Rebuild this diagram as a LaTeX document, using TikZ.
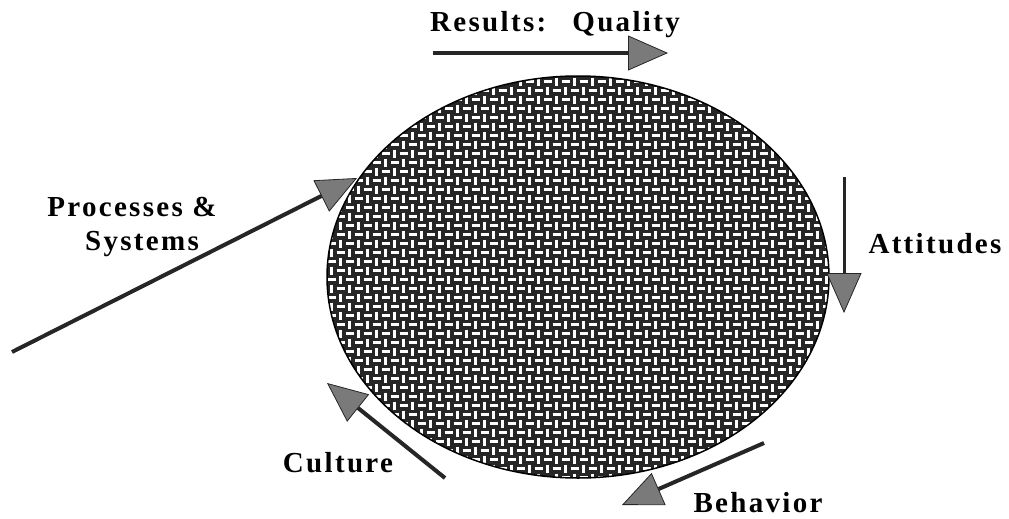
\documentclass[tikz,border=0pt]{standalone}
\usepackage{fontspec}
\setmainfont{Liberation Serif}
\newfontfamily\lblfont{Liberation Serif}[LetterSpace=8]
\usetikzlibrary{arrows.meta, shapes.geometric}

\begin{document}
\begin{tikzpicture}[x=1pt, y=-1pt,
    lbl/.style={font=\lblfont\bfseries\fontsize{29}{35}\selectfont,
                anchor=base, inner sep=0pt},
    push/.style={line width=4pt, draw=black!85,
                 -{Triangle[length=40pt, width=35pt, line width=0.8pt, fill=black!52]}},
    weave/.style={white, line width=2.1pt},
    core/.style={ellipse, draw=black, line width=1.5pt, fill=black!85,
                 minimum width=502pt, minimum height=402pt, inner sep=0pt},
]
\useasboundingbox (0,0) rectangle (1009,519);
\node[core, path picture={
    \foreach \i in {0,18,...,504} {
      \foreach \j in {0,18,...,396} {
        \draw[weave] (-251+\i+0.5,-200+\j+4.5) -- ++(8,0)
                     (-251+\i+13.5,-200+\j+0.5) -- ++(0,8)
                     (-251+\i+4.5,-200+\j+9.5) -- ++(0,8)
                     (-251+\i+9.5,-200+\j+13.5) -- ++(8,0);
      }
    }
  }] (hub) at (578,277) {};
\coordinate (rq-a) at (433,53);
\coordinate (rq-b) at (668,53);
\coordinate (ps-a) at (12,352);
\coordinate (ps-b) at (357,178);
\coordinate (at-a) at (844,177);
\coordinate (at-b) at (844,313);
\coordinate (cu-a) at (445,478);
\coordinate (cu-b) at (327,383);
\coordinate (be-a) at (764,443);
\coordinate (be-b) at (622,505);
\draw[push] (rq-a) -- (rq-b);
\draw[push] (ps-a) -- (ps-b);
\draw[push, line width=3pt] (at-a) -- (at-b);
\draw[push] (cu-a) -- (cu-b);
\draw[push] (be-a) -- (be-b);
\node[lbl] (results) at (555,32) {Results:\hspace{0.9em}Quality};
\node[lbl] (proc)    at (132,216) {Processes \&};
\node[lbl] (sys)     at (142,250) {Systems};
\node[lbl] (att)     at (935,253) {Attitudes};
\node[lbl] (cult)    at (338,472) {Culture};
\node[lbl] (behav)   at (758,512) {Behavior};
\end{tikzpicture}
\end{document}
